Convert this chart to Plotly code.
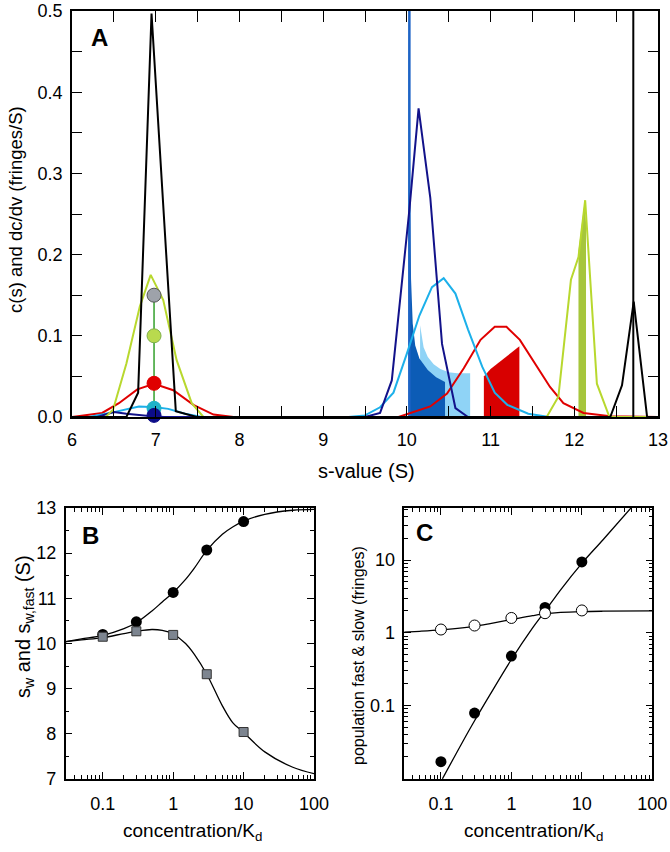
import plotly.graph_objects as go

# ---------------- Panel A data ----------------
black7_s = [6.0, 6.5, 6.65, 6.79, 6.95, 7.24, 7.49, 9.0, 12.43, 12.57, 12.71, 12.87, 13.0]
black7_v = [0.0, 0.0, 0.0, 0.03, 0.497, 0.007, 0.0, 0.0, 0.0, 0.039, 0.142, 0.0, 0.0]

yg_s = [6.0, 6.4, 6.49, 6.65, 6.81, 6.94, 7.09, 7.25, 7.43, 7.57, 9.0, 11.67, 11.81, 11.96, 12.05, 12.13, 12.27, 12.42, 13.0]
yg_v = [0.0, 0.0, 0.009, 0.066, 0.136, 0.175, 0.144, 0.07, 0.017, 0.0, 0.0, 0.0, 0.025, 0.169, 0.197, 0.267, 0.041, 0.0, 0.0]

red_s = [6.0, 6.36, 6.56, 6.78, 6.98, 7.21, 7.45, 7.69, 7.93, 9.9, 10.28, 10.48, 10.68, 10.88, 11.05, 11.19, 11.35, 11.53, 11.71, 11.87, 12.11, 12.43, 13.0]
red_v = [0.0, 0.005, 0.017, 0.034, 0.041, 0.033, 0.015, 0.003, 0.0, 0.0, 0.013, 0.029, 0.06, 0.095, 0.111, 0.111, 0.095, 0.066, 0.037, 0.017, 0.005, 0.001, 0.0]

lb_s = [6.0, 6.2, 6.5, 6.8, 7.0, 7.15, 7.35, 7.55, 9.3, 9.5, 9.68, 9.84, 10.0, 10.15, 10.3, 10.44, 10.58, 10.73, 10.9, 11.05, 11.2, 11.45, 11.7, 13.0]
lb_v = [0.0, 0.0, 0.006, 0.013, 0.012, 0.01, 0.004, 0.0, 0.0, 0.002, 0.012, 0.03, 0.078, 0.125, 0.16, 0.171, 0.152, 0.108, 0.062, 0.03, 0.015, 0.004, 0.0, 0.0]

navy_s = [6.0, 6.3, 6.5, 6.65, 6.95, 7.1, 9.5, 9.68, 9.82, 9.95, 10.03, 10.14, 10.28, 10.42, 10.58, 10.73, 13.0]
navy_v = [0.0, 0.0, 0.006, 0.004, 0.001, 0.0, 0.0, 0.005, 0.045, 0.18, 0.255, 0.38, 0.27, 0.09, 0.011, 0.0, 0.0]

# boundary-shape fills
dkfill_s = [10.02, 10.02, 10.035, 10.05, 10.07, 10.1, 10.15, 10.25, 10.35, 10.456, 10.456]
dkfill_v = [0.0, 0.52, 0.3, 0.17, 0.115, 0.088, 0.072, 0.058, 0.049, 0.043, 0.0]

ltfill_s = [10.158, 10.158, 10.2, 10.25, 10.32, 10.4, 10.5, 10.6, 10.756, 10.756]
ltfill_v = [0.0, 0.113, 0.086, 0.074, 0.065, 0.059, 0.055, 0.054, 0.054, 0.0]

rdfill_s = [10.92, 10.92, 11.0, 11.1, 11.2, 11.28, 11.344, 11.344]
rdfill_v = [0.0, 0.05, 0.059, 0.067, 0.075, 0.081, 0.087, 0.0]

ygfill_s = [12.05, 12.05, 12.12, 12.14, 12.14]
ygfill_v = [0.0, 0.205, 0.262, 0.24, 0.0]

vert_blue_s = [10.03, 10.03]
vert_black_s = [12.705, 12.705]
vert_v = [0.0, 0.55]

dots_s = [6.98, 6.98, 6.98, 6.98, 6.98]
dots_v = [0.150, 0.100, 0.0415, 0.0107, 0.002]
dots_fill = ["#9ea2aa", "#b9da4e", "#e00000", "#1fb3c9", "#0c0c88"]
dots_edge = ["#555555", "#7fb04a", "#e00000", "#1fb3c9", "#0c0c88"]

# ---------------- Panel B data ----------------
conc = [0.1, 0.3, 1.0, 3.0, 10.0]
sw_pts = [10.2, 10.48, 11.13, 12.07, 12.70]
swfast_pts = [10.15, 10.27, 10.19, 9.32, 8.04]

curveB_x = [0.03, 0.05, 0.1, 0.2, 0.3, 0.5, 0.7, 1.0, 1.5, 2.0, 3.0, 5.0, 7.0, 10.0, 20.0, 50.0, 100.0]
sw_curve = [10.04, 10.1, 10.18, 10.33, 10.46, 10.72, 10.92, 11.13, 11.42, 11.67, 12.06, 12.42, 12.58, 12.71, 12.86, 12.95, 12.97]
swfast_curve = [10.04, 10.08, 10.13, 10.22, 10.27, 10.31, 10.29, 10.21, 10.0, 9.76, 9.32, 8.62, 8.25, 8.03, 7.6, 7.26, 7.12]

# ---------------- Panel C data ----------------
fast_pts = [0.017, 0.079, 0.48, 2.23, 9.4]
slow_pts = [1.11, 1.26, 1.6, 1.86, 2.03]

fastC_x = [0.105, 0.2, 0.3, 0.5, 1.0, 2.0, 3.0, 5.0, 10.0, 20.0, 50.0]
fastC_y = [0.0099, 0.031, 0.062, 0.143, 0.43, 1.17, 1.98, 3.9, 9.0, 19.0, 52.0]
slowC_x = [0.03, 0.05, 0.1, 0.2, 0.3, 0.5, 1.0, 2.0, 3.0, 5.0, 10.0, 20.0, 100.0]
slowC_y = [1.02, 1.05, 1.1, 1.17, 1.23, 1.34, 1.52, 1.72, 1.83, 1.91, 1.96, 1.98, 2.0]

W, H = 670, 852
def px(x):
    return x / W
def py(y):
    return 1 - y / H

fig = go.Figure()

def line(x, y, color, width=2, xa="x", ya="y", shape="linear"):
    fig.add_trace(go.Scatter(x=x, y=y, mode="lines", line=dict(color=color, width=width, shape=shape),
                             xaxis=xa, yaxis=ya, showlegend=False, hoverinfo="skip"))

def fill(x, y, color):
    fig.add_trace(go.Scatter(x=x, y=y, mode="lines", fill="toself", fillcolor=color,
                             line=dict(width=0, color=color), showlegend=False, hoverinfo="skip"))

# fills
fill(ltfill_s, ltfill_v, "#8fd3f6")
fill(dkfill_s, dkfill_v, "#0c5cb6")
fill(rdfill_s, rdfill_v, "#d80000")
fill(ygfill_s, ygfill_v, "#a6c63c")
line(vert_blue_s, vert_v, "#1e64c6", 2.5)

# curves
line(red_s, red_v, "#e00000", 2)
line(lb_s, lb_v, "#1cb0ea", 2)
line(navy_s, navy_v, "#12128a", 2)
line(yg_s, yg_v, "#b8d82e", 2)
line(black7_s, black7_v, "#000000", 2)
line(vert_black_s, vert_v, "#000000", 2)

# dots at 7 S
line([dots_s[0], dots_s[-1]], [dots_v[0], dots_v[-1]], "#33a02c", 1.5)
fig.add_trace(go.Scatter(x=dots_s, y=dots_v, mode="markers",
                         marker=dict(size=14, color=dots_fill, line=dict(color=dots_edge, width=1)),
                         showlegend=False, hoverinfo="skip", cliponaxis=False))

# panel B
line(curveB_x, sw_curve, "#000000", 1.3, "x2", "y2", "spline")
line(curveB_x, swfast_curve, "#000000", 1.3, "x2", "y2", "spline")
fig.add_trace(go.Scatter(x=conc, y=sw_pts, mode="markers", xaxis="x2", yaxis="y2",
                         marker=dict(symbol="circle", size=11, color="#000000"), showlegend=False))
fig.add_trace(go.Scatter(x=conc, y=swfast_pts, mode="markers", xaxis="x2", yaxis="y2",
                         marker=dict(symbol="square", size=9, color="#7d8590", line=dict(color="#333333", width=1)),
                         showlegend=False))

# panel C
line(fastC_x, fastC_y, "#000000", 1.3, "x3", "y3", "spline")
line(slowC_x, slowC_y, "#000000", 1.3, "x3", "y3", "spline")
fig.add_trace(go.Scatter(x=conc, y=fast_pts, mode="markers", xaxis="x3", yaxis="y3",
                         marker=dict(symbol="circle", size=11, color="#000000"), showlegend=False))
fig.add_trace(go.Scatter(x=conc, y=slow_pts, mode="markers", xaxis="x3", yaxis="y3",
                         marker=dict(symbol="circle", size=11, color="#ffffff", line=dict(color="#000000", width=1)),
                         showlegend=False))

FONT = "Liberation Sans, Arial, sans-serif"
common = dict(showline=True, linecolor="#000000", linewidth=1.5, mirror="ticks", ticks="inside",
              tickcolor="#000000", showgrid=False, zeroline=False, automargin=False,
              tickfont=dict(size=18, color="#000", family=FONT))

minors = [m * 10 ** e for e in range(-2, 3) for m in range(2, 10)]

fig.update_layout(
    width=W, height=H, margin=dict(l=0, r=0, t=0, b=0, autoexpand=False),
    paper_bgcolor="white", plot_bgcolor="white",
    font=dict(family=FONT, color="#000"),
    xaxis=dict(domain=[px(72), px(658)], range=[6, 13], anchor="y", tickvals=[6, 7, 8, 9, 10, 11, 12, 13],
               ticklen=11, tickwidth=1.3, minor=dict(dtick=0.5, tick0=0, ticks="inside", ticklen=11, tickcolor="#000"),
               ticklabelstandoff=6, **common),
    yaxis=dict(domain=[py(417), py(11)], range=[0, 0.5], anchor="x", dtick=0.1, tickformat=".1f",
               ticklen=10, tickwidth=1.3, minor=dict(dtick=0.05, ticks="inside", ticklen=10, tickcolor="#000"),
               ticklabelstandoff=4, **common),
    xaxis2=dict(domain=[px(65.7), px(314)], type="log", range=[-1.526, 2], anchor="y2",
                tickvals=[0.1, 1, 10, 100], ticktext=["0.1", "1", "10", "100"], ticklen=7, tickwidth=1,
                minor=dict(tickvals=minors, ticks="inside", ticklen=4, tickcolor="#000"),
                ticklabelstandoff=8, **common),
    yaxis2=dict(domain=[py(779), py(508)], range=[7, 13], anchor="x2", dtick=1, ticklen=7, tickwidth=1,
                minor=dict(dtick=0.5, ticks="inside", ticklen=4, tickcolor="#000"),
                ticklabelstandoff=4, **common),
    xaxis3=dict(domain=[px(404.3), px(652.3)], type="log", range=[-1.52, 2], anchor="y3",
                tickvals=[0.1, 1, 10, 100], ticktext=["0.1", "1", "10", "100"], ticklen=7, tickwidth=1,
                minor=dict(tickvals=minors, ticks="inside", ticklen=4, tickcolor="#000"),
                ticklabelstandoff=8, **common),
    yaxis3=dict(domain=[py(779), py(508)], type="log", range=[-2.007, 1.714], anchor="x3",
                tickvals=[0.1, 1, 10], ticktext=["0.1", "1", "10"], ticklen=7, tickwidth=1,
                minor=dict(tickvals=minors, ticks="inside", ticklen=4, tickcolor="#000"),
                ticklabelstandoff=4, **common),
)

ann = [
    dict(text="<b>A</b>", x=px(99), y=py(38), size=24, angle=0),
    dict(text="<b>B</b>", x=px(90), y=py(535), size=24, angle=0),
    dict(text="<b>C</b>", x=px(424), y=py(532), size=24, angle=0),
    dict(text="c(s) and dc/dv (fringes/S)", x=px(15), y=py(210), size=18.5, angle=-90),
    dict(text="s-value (S)", x=px(366), y=py(471), size=20, angle=0),
    dict(text="s<sub>w</sub> and s<sub>w,fast</sub> (S)", x=px(24), y=py(627), size=20, angle=-90),
    dict(text="concentration/K<sub>d</sub>", x=px(192), y=py(832), size=19, angle=0),
    dict(text="population fast &amp; slow (fringes)", x=px(358), y=py(656), size=16, angle=-90),
    dict(text="concentration/K<sub>d</sub>", x=px(533), y=py(832), size=19, angle=0),
]
for a in ann:
    fig.add_annotation(text=a["text"], x=a["x"], y=a["y"], xref="paper", yref="paper",
                       showarrow=False, textangle=a["angle"], xanchor="center", yanchor="middle",
                       font=dict(size=a["size"], family=FONT, color="#000"))

fig.write_html("out.html", config={"displayModeBar": False},
               post_script="document.body.style.margin='0';document.body.style.overflow='hidden';")
